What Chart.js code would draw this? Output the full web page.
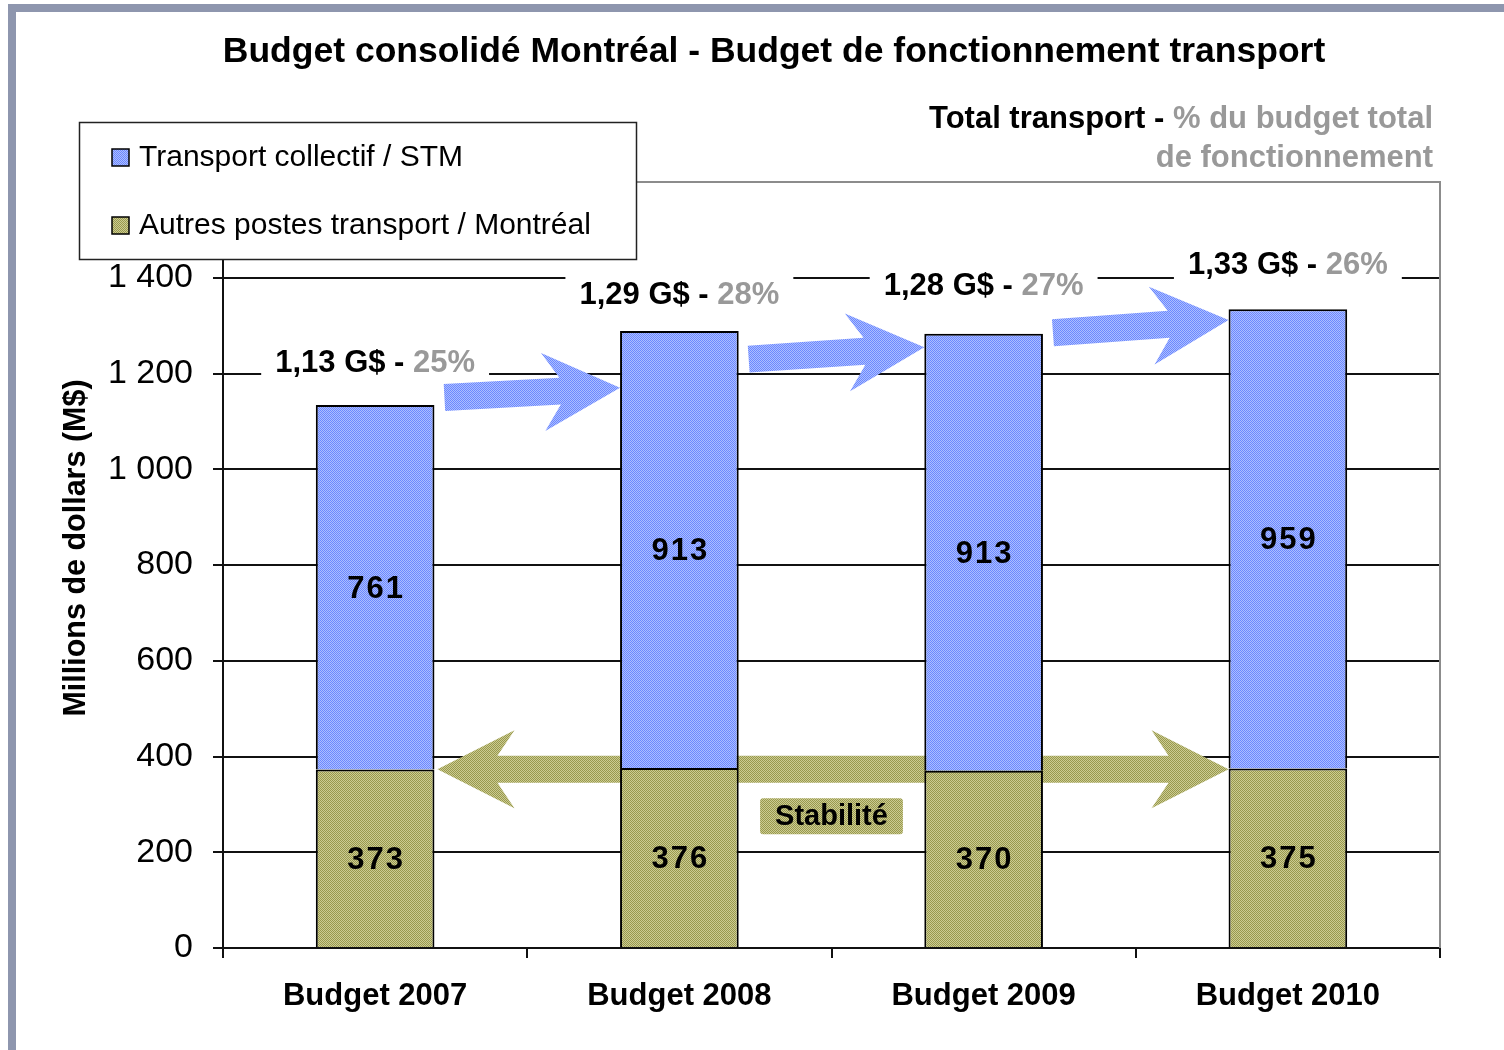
<!DOCTYPE html>
<html><head><meta charset="utf-8">
<script src="https://cdn.jsdelivr.net/npm/chart.js@4.4.1/dist/chart.umd.min.js"></script>
<style>html,body{margin:0;padding:0;background:#fff}canvas{display:block}</style>
</head><body>
<canvas id="c" width="1504" height="1050"></canvas>
<script>
const categories = ['Budget 2007', 'Budget 2008', 'Budget 2009', 'Budget 2010'];
const stmValues = [761, 913, 913, 959];
const autresValues = [373, 376, 370, 375];
const totalLabels = ['1,13 G$', '1,29 G$', '1,28 G$', '1,33 G$'];
const pctLabels = ['25%', '28%', '27%', '26%'];
const seriesNames = ['Transport collectif / STM', 'Autres postes transport / Montréal'];
const arrowFrom = [1150, 1230, 1285];
const arrowTo = [1170, 1255, 1312];
const chartTitle = 'Budget consolidé Montréal - Budget de fonctionnement transport';
const yTitle = 'Millions de dollars (M$)';
const headerBlack = 'Total transport - ';
const headerGrey1 = '% du budget total';
const headerGrey2 = 'de fonctionnement';
const stabilityLabel = 'Stabilité';

// layout: how far above each bar top its total label sits (px)
const labelLift = [42, 35, 47, 44];

const FONT = '"Liberation Sans", Arial, sans-serif';
const canvas = document.getElementById('c');
const ctx0 = canvas.getContext('2d');

function makePattern(c1, c2) {
  const p = document.createElement('canvas');
  p.width = 2; p.height = 2;
  const g = p.getContext('2d');
  g.fillStyle = c1; g.fillRect(0, 0, 2, 2);
  g.fillStyle = c2; g.fillRect(1, 0, 1, 1); g.fillRect(0, 1, 1, 1);
  return ctx0.createPattern(p, 'repeat');
}
const bluePat = makePattern('rgb(108,136,255)', 'rgb(172,190,255)');
const olivePat = makePattern('rgb(152,152,78)', 'rgb(204,204,146)');

function fmt(v) {
  if (v >= 1000) return Math.floor(v / 1000) + ' ' + String(v % 1000).padStart(3, '0');
  return String(v);
}

function arrowPath(ctx, x1, y1, x2, y2, double) {
  const w = 13.5, hj = 60, hb = 77, H = 39;
  const L = Math.hypot(x2 - x1, y2 - y1);
  const ang = Math.atan2(y2 - y1, x2 - x1);
  let pts;
  if (double) {
    pts = [[0, 0], [hb, -H], [hj, -w], [L - hj, -w], [L - hb, -H], [L, 0], [L - hb, H], [L - hj, w], [hj, w], [hb, H]];
  } else {
    pts = [[0, -w], [L - hj, -w], [L - hb, -H], [L, 0], [L - hb, H], [L - hj, w], [0, w]];
  }
  ctx.save();
  ctx.translate(x1, y1);
  ctx.rotate(ang);
  ctx.beginPath();
  pts.forEach((p, i) => i ? ctx.lineTo(p[0], p[1]) : ctx.moveTo(p[0], p[1]));
  ctx.closePath();
  ctx.restore();
}

const overlay = {
  id: 'overlay',
  beforeDraw(chart) {
    const ctx = chart.ctx;
    ctx.save();
    ctx.fillStyle = '#fff';
    ctx.fillRect(0, 0, chart.width, chart.height);
    ctx.restore();
  },
  beforeDatasetsDraw(chart) {
    const { ctx, chartArea: a, scales: { y } } = chart;
    const aut = chart.getDatasetMeta(0).data;
    const stm = chart.getDatasetMeta(1).data;
    ctx.save();
    // plot area border (top & right)
    ctx.strokeStyle = '#8c8c8c';
    ctx.lineWidth = 2;
    ctx.beginPath();
    ctx.moveTo(a.left, a.top); ctx.lineTo(a.right, a.top); ctx.lineTo(a.right, a.bottom);
    ctx.stroke();

    // total labels with white background
    ctx.font = 'bold 31px ' + FONT;
    ctx.textBaseline = 'middle';
    ctx.textAlign = 'left';
    stm.forEach((bar, i) => {
      const t1 = totalLabels[i] + ' - ';
      const t2 = pctLabels[i];
      const w1 = ctx.measureText(t1).width, w2 = ctx.measureText(t2).width;
      const cx = bar.x, cy = bar.y - labelLift[i];
      const x0 = cx - (w1 + w2) / 2;
      ctx.fillStyle = '#fff';
      ctx.fillRect(x0 - 14, cy - 20, w1 + w2 + 28, 44);
      ctx.fillStyle = '#000';
      ctx.fillText(t1, x0, cy);
      ctx.fillStyle = '#999';
      ctx.fillText(t2, x0 + w1, cy);
    });

    // olive double arrow
    const avg = autresValues.reduce((s, v) => s + v, 0) / autresValues.length;
    const ay = y.getPixelForValue(avg);
    const ax1 = aut[0].x + aut[0].width / 2 + 3;
    const ax2 = aut[3].x - aut[3].width / 2;
    arrowPath(ctx, ax1, ay, ax2, ay, true);
    ctx.fillStyle = olivePat;
    ctx.fill();

    // blue arrows
    for (let i = 0; i < arrowFrom.length; i++) {
      const x1 = stm[i].x + stm[i].width / 2 + 10;
      const x2 = stm[i + 1].x - stm[i + 1].width / 2;
      arrowPath(ctx, x1, y.getPixelForValue(arrowFrom[i]), x2, y.getPixelForValue(arrowTo[i]), false);
      ctx.fillStyle = bluePat;
      ctx.fill();
    }
    ctx.restore();
  },
  afterDatasetsDraw(chart) {
    const { ctx, scales: { y } } = chart;
    const aut = chart.getDatasetMeta(0).data;
    const stm = chart.getDatasetMeta(1).data;
    ctx.save();
    ctx.font = 'bold 31px ' + FONT;
    ctx.letterSpacing = '2px';
    ctx.textAlign = 'center';
    ctx.textBaseline = 'middle';
    ctx.fillStyle = '#000';
    [aut, stm].forEach((meta, d) => {
      const vals = d === 0 ? autresValues : stmValues;
      meta.forEach((bar, i) => {
        ctx.fillText(String(vals[i]), bar.x + 1, (bar.y + bar.base) / 2 + 2);
      });
    });
    ctx.letterSpacing = '0px';

    // Stabilité box
    const avg = autresValues.reduce((s, v) => s + v, 0) / autresValues.length;
    const ay = y.getPixelForValue(avg);
    const sx = ((stm[1].x + stm[1].width / 2) + (stm[2].x - stm[2].width / 2)) / 2;
    const sy = ay + 47;
    ctx.font = 'bold 29px ' + FONT;
    const sw = ctx.measureText(stabilityLabel).width;
    ctx.fillStyle = olivePat;
    ctx.beginPath();
    ctx.roundRect(sx - sw / 2 - 15, sy - 18, sw + 30, 36, 3);
    ctx.fill();
    ctx.fillStyle = '#000';
    ctx.fillText(stabilityLabel, sx, sy + 1);
    ctx.restore();
  },
  afterDraw(chart) {
    const ctx = chart.ctx;
    ctx.save();
    // legend
    ctx.fillStyle = '#fff';
    ctx.fillRect(79, 122, 558, 138);
    ctx.strokeStyle = '#222';
    ctx.lineWidth = 1.5;
    ctx.strokeRect(79.5, 122.5, 557, 137);
    const pats = [bluePat, olivePat];
    const ly = [157, 225];
    ctx.font = '30px ' + FONT;
    ctx.textBaseline = 'middle';
    ctx.textAlign = 'left';
    seriesNames.forEach((n, i) => {
      ctx.fillStyle = pats[i];
      ctx.fillRect(112, ly[i] - 8, 17, 17);
      ctx.strokeStyle = '#000';
      ctx.lineWidth = 1.5;
      ctx.strokeRect(112, ly[i] - 8, 17, 17);
      ctx.fillStyle = '#000';
      ctx.fillText(n, 139, ly[i] + 1);
    });

    // title
    ctx.font = 'bold 35.5px ' + FONT;
    ctx.textAlign = 'center';
    ctx.fillStyle = '#000';
    ctx.fillText(chartTitle, 774, 52);

    // header top-right
    ctx.font = 'bold 31px ' + FONT;
    ctx.textAlign = 'right';
    const wg = ctx.measureText(headerGrey1).width;
    ctx.fillStyle = '#999';
    ctx.fillText(headerGrey1, 1433, 119);
    ctx.fillStyle = '#000';
    ctx.fillText(headerBlack, 1433 - wg, 119);
    ctx.fillStyle = '#999';
    ctx.fillText(headerGrey2, 1433, 158);

    // y title
    ctx.translate(77, 548);
    ctx.rotate(-Math.PI / 2);
    ctx.textAlign = 'center';
    ctx.fillStyle = '#000';
    ctx.font = 'bold 30.5px ' + FONT;
    ctx.fillText(yTitle, 0, 0);
    ctx.setTransform(1, 0, 0, 1, 0, 0);

    // outer frame
    ctx.fillStyle = '#8e96ae';
    ctx.fillRect(8, 4, 8, chart.height - 4);
    ctx.fillRect(8, 4, chart.width - 8, 8);
    ctx.restore();
  }
};

new Chart(canvas, {
  type: 'bar',
  data: {
    labels: categories,
    datasets: [
      { label: seriesNames[1], data: autresValues, backgroundColor: olivePat, borderColor: '#000', borderWidth: 2, barPercentage: 0.39, categoryPercentage: 1 },
      { label: seriesNames[0], data: stmValues, backgroundColor: bluePat, borderColor: '#000', borderWidth: 2, barPercentage: 0.39, categoryPercentage: 1 }
    ]
  },
  options: {
    responsive: false,
    animation: false,
    devicePixelRatio: 1,
    layout: { padding: { top: 182, right: 64, left: 0, bottom: 0 } },
    plugins: { legend: { display: false }, tooltip: { enabled: false }, title: { display: false } },
    scales: {
      x: {
        stacked: true,
        grid: { offset: true, drawOnChartArea: false, drawTicks: true, tickLength: 10, color: '#111', lineWidth: 2 },
        border: { color: '#111', width: 2 },
        ticks: { font: { family: FONT, size: 31, weight: 'bold' }, color: '#000', padding: 20 },
        afterFit: s => { s.height = 102; }
      },
      y: {
        stacked: true,
        min: 0, max: 1600,
        ticks: { stepSize: 200, callback: v => v === 1600 ? '' : fmt(v), font: { family: FONT, size: 34 }, color: '#000', padding: 20 },
        grid: { color: c => (c.tick && c.tick.value === 1600) ? '#8c8c8c' : '#111', lineWidth: 2, tickLength: 10 },
        border: { color: '#111', width: 2 },
        afterFit: s => { s.width = 223; }
      }
    }
  },
  plugins: [overlay]
});
</script>
</body></html>
